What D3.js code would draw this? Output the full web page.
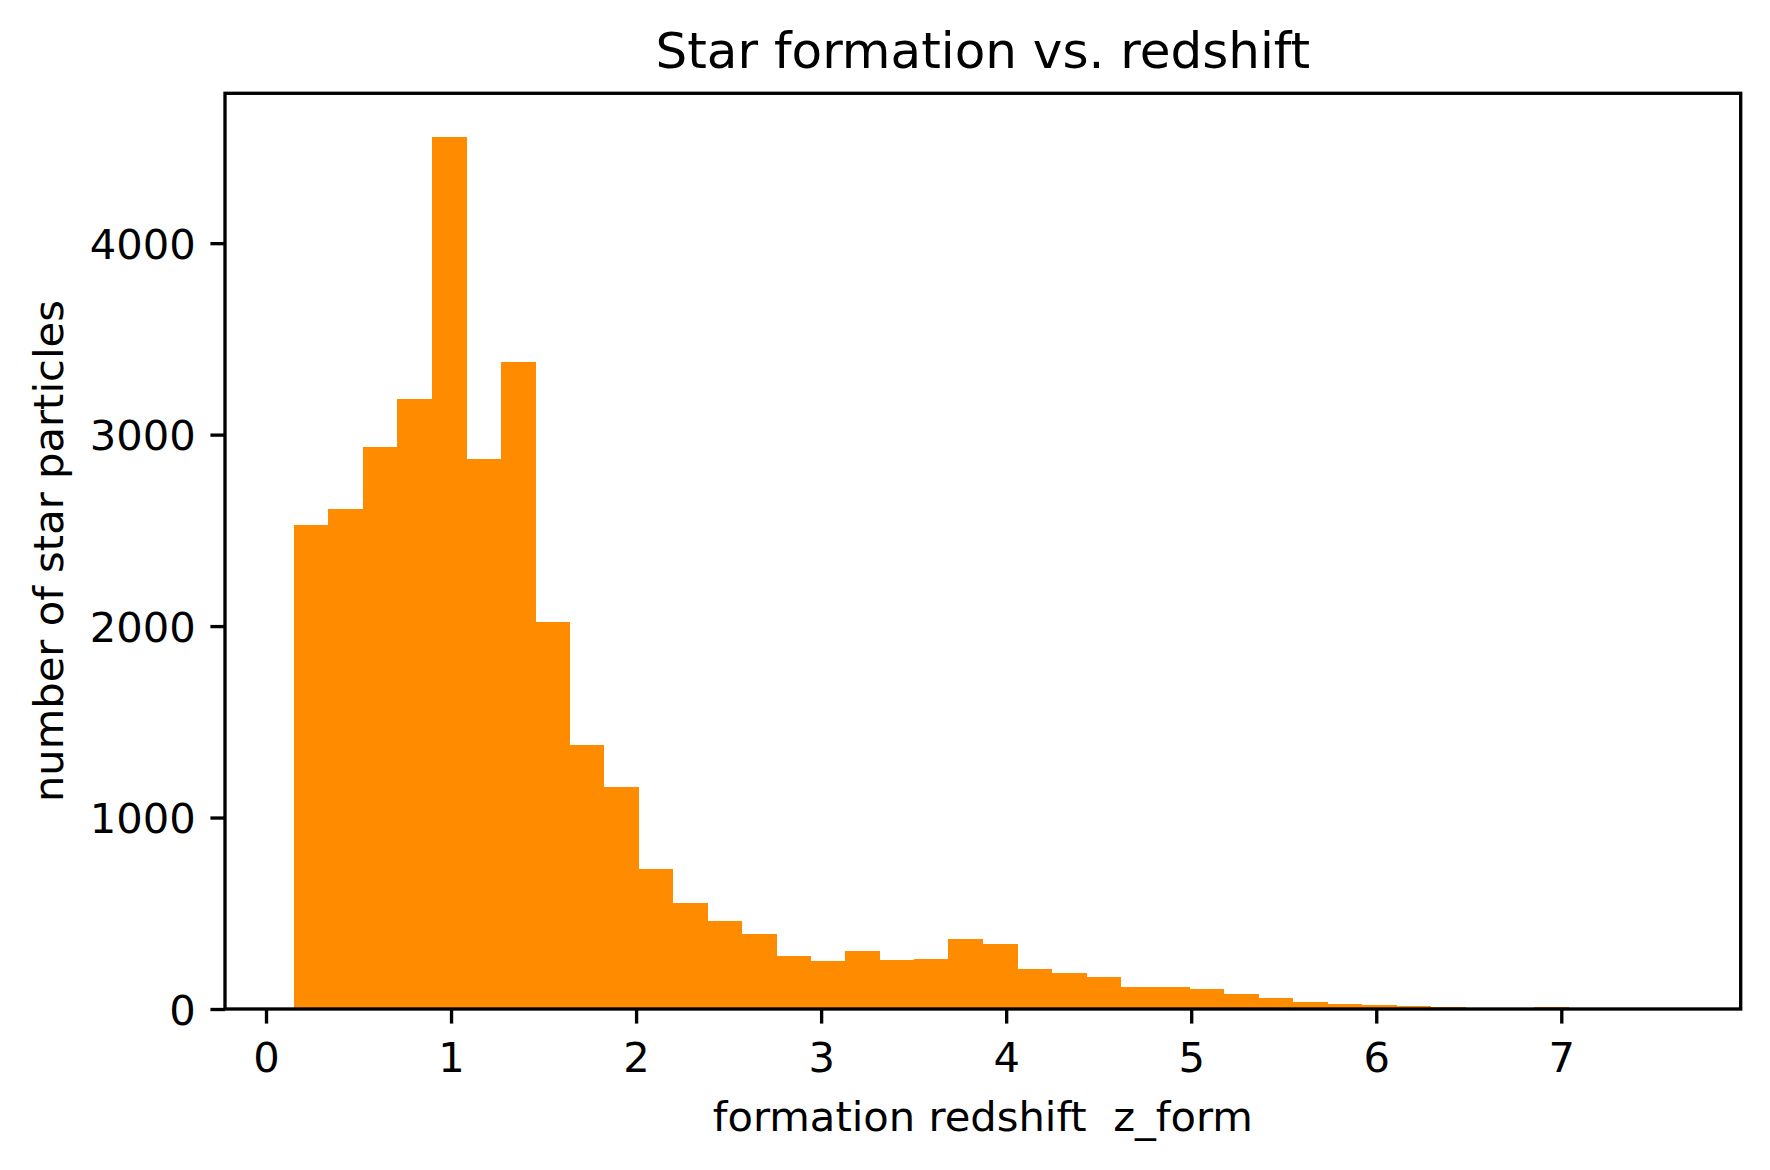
<!DOCTYPE html>
<html>
<head>
<meta charset="utf-8">
<script src="https://cdn.jsdelivr.net/npm/d3@7"></script>
<style>
  html, body { margin: 0; padding: 0; background: #ffffff; }
  svg { display: block; }
  text { font-family: "DejaVu Sans", sans-serif; fill: #000; white-space: pre; }
</style>
</head>
<body>
<svg id="chart" width="1770" height="1170"></svg>
<script>
// ---- data ----
const binStart = 0.1507;
const binEnd = 7.5973;
const counts = [2528, 2612, 2936, 3187, 4555, 2873, 3380, 2022, 1379, 1160,
                731, 554, 460, 392, 277, 251, 303, 256, 261, 366,
                340, 209, 188, 167, 115, 115, 104, 78, 57, 37,
                26, 21, 17, 12, 0, 0, 10, 0, 0, 1];
const xTicks = [0, 1, 2, 3, 4, 5, 6, 7];
const yTicks = [0, 1000, 2000, 3000, 4000];
const titleText = "Star formation vs. redshift";
const xLabelText = "formation redshift  z_form";
const yLabelText = "number of star particles";

// ---- layout ----
const W = 1770, H = 1170;
const L = 225, R = 1740.7, T = 93.3, B = 1009;
const pt = 300 / 72;
const fs = 10 * pt, titleFs = 12 * pt;
const tickLen = 3.5 * pt, tickPad = 3.5 * pt, lw = 0.8 * pt;

const svg = d3.select("#chart");
svg.append("rect").attr("width", W).attr("height", H).attr("fill", "#fff");

const nb = counts.length;
const bw = (binEnd - binStart) / nb;
const bins = counts.map((c, i) => ({ x0: binStart + i * bw, x1: binStart + (i + 1) * bw, c }));

const span = binEnd - binStart;
const x = d3.scaleLinear().domain([binStart - 0.05 * span, binEnd + 0.05 * span]).range([L, R]);
const yMax = d3.max(counts) * 1.05;
const y = d3.scaleLinear().domain([0, yMax]).range([B, T]);

// bars
svg.append("g").attr("shape-rendering", "crispEdges")
  .selectAll("rect").data(bins.filter(d => d.c > 0)).join("rect")
  .attr("x", d => x(d.x0))
  .attr("width", d => x(d.x1) - x(d.x0) + 0.5)
  .attr("y", d => y(d.c))
  .attr("height", d => y(0) - y(d.c))
  .attr("fill", "#ff8c00");

// spines
svg.append("rect")
  .attr("x", L).attr("y", T).attr("width", R - L).attr("height", B - T)
  .attr("fill", "none").attr("stroke", "#000").attr("stroke-width", lw)
  .attr("stroke-linejoin", "miter");

// x axis
const xAxis = d3.axisBottom(x).tickValues(xTicks).tickSize(tickLen).tickPadding(tickPad).tickFormat(d3.format("d"));
const gx = svg.append("g").attr("transform", `translate(0,${B})`).call(xAxis);
gx.select(".domain").remove();
gx.selectAll(".tick line").attr("stroke", "#000").attr("stroke-width", lw);
gx.selectAll(".tick text")
  .attr("font-size", fs).attr("font-family", "DejaVu Sans").attr("fill", "#000")
  .attr("dy", null).attr("y", 62.5);

// y axis
const yAxis = d3.axisLeft(y).tickValues(yTicks).tickSize(tickLen).tickPadding(tickPad).tickFormat(d3.format("d"));
const gy = svg.append("g").attr("transform", `translate(${L},0)`).call(yAxis);
gy.select(".domain").remove();
gy.selectAll(".tick line").attr("stroke", "#000").attr("stroke-width", lw);
gy.selectAll(".tick text")
  .attr("font-size", fs).attr("font-family", "DejaVu Sans").attr("fill", "#000")
  .attr("dy", null).attr("y", 15.3).attr("x", -(tickLen + tickPad));

// title
svg.append("text").attr("x", (L + R) / 2).attr("y", 68.3)
  .attr("text-anchor", "middle").attr("font-size", titleFs).text(titleText);

// x label
svg.append("text").attr("x", (L + R) / 2).attr("y", 1131)
  .attr("xml:space", "preserve")
  .attr("text-anchor", "middle").attr("font-size", fs).text(xLabelText);

// y label
svg.append("text")
  .attr("transform", `translate(63,${(T + B) / 2}) rotate(-90)`)
  .attr("text-anchor", "middle").attr("font-size", fs).text(yLabelText);
</script>
</body>
</html>
